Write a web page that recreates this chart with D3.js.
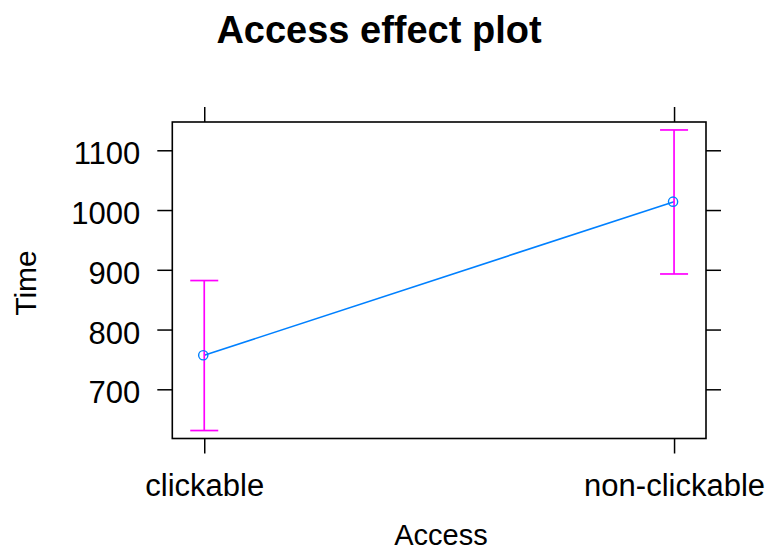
<!DOCTYPE html>
<html>
<head>
<meta charset="utf-8">
<script src="https://cdn.jsdelivr.net/npm/d3@7"></script>
<style>
  html, body { margin: 0; padding: 0; background: #fff; }
  svg { display: block; }
  text { font-family: "Liberation Sans", Arial, Helvetica, sans-serif; fill: #000; }
</style>
</head>
<body>
<svg id="chart" width="766" height="553"></svg>
<script>
// Effect of Access on Time: fitted means with confidence limits
const categories = ["clickable", "non-clickable"];
const fit   = [757, 1014];
const lower = [631, 893];
const upper = [882, 1134];
const yTicks = [700, 800, 900, 1000, 1100];

const svg = d3.select("#chart");

// panel box
const panel = { left: 172.3, right: 706, top: 122, bottom: 438.5 };
const tickLen = 15;

// y range padded a little beyond the confidence limits
const yMin = d3.min(lower), yMax = d3.max(upper);
const pad = (yMax - yMin) * 0.0265;
const y = d3.scaleLinear()
  .domain([yMin - pad, yMax + pad])
  .range([panel.bottom, panel.top]);

const x = d3.scalePoint()
  .domain(categories)
  .range([panel.left, panel.right])
  .padding(0.068);

// title
svg.append("text")
  .attr("x", 379).attr("y", 43)
  .attr("text-anchor", "middle")
  .style("font-size", "38px")
  .style("font-weight", "bold")
  .text("Access effect plot");

// axes: labelled on left/bottom, bare ticks on right/top
const axisStyle = g => {
  g.select(".domain").remove();
  g.selectAll(".tick line").attr("stroke", "#000").attr("stroke-width", 1.5);
};

svg.append("g")
  .attr("transform", `translate(${panel.left},0)`)
  .call(d3.axisLeft(y).tickValues(yTicks).tickSize(tickLen).tickPadding(17).tickFormat(d3.format("d")))
  .call(axisStyle)
  .call(g => g.selectAll(".tick text")
    .style("font-size", "31px")
    .attr("dy", "0.44em"));

svg.append("g")
  .attr("transform", `translate(${panel.right},0)`)
  .call(d3.axisRight(y).tickValues(yTicks).tickSize(tickLen).tickFormat(""))
  .call(axisStyle);

svg.append("g")
  .attr("transform", `translate(0,${panel.bottom})`)
  .call(d3.axisBottom(x).tickSize(tickLen).tickPadding(20))
  .call(axisStyle)
  .call(g => g.selectAll(".tick text")
    .style("font-size", "31px")
    .attr("dy", "0.71em"));

svg.append("g")
  .attr("transform", `translate(0,${panel.top})`)
  .call(d3.axisTop(x).tickSize(tickLen).tickFormat(""))
  .call(axisStyle);

// panel border
svg.append("rect")
  .attr("x", panel.left).attr("y", panel.top)
  .attr("width", panel.right - panel.left)
  .attr("height", panel.bottom - panel.top)
  .attr("fill", "none")
  .attr("stroke", "#000")
  .attr("stroke-width", 1.6);

// axis titles
svg.append("text")
  .attr("x", 441).attr("y", 545)
  .attr("text-anchor", "middle")
  .style("font-size", "29px")
  .text("Access");

svg.append("text")
  .attr("transform", `translate(36,283) rotate(-90)`)
  .attr("text-anchor", "middle")
  .style("font-size", "30px")
  .text("Time");

const rows = categories.map((c, i) => ({ c, fit: fit[i], lo: lower[i], hi: upper[i] }));

// fitted line
svg.append("path")
  .datum(rows)
  .attr("fill", "none")
  .attr("stroke", "#0080ff")
  .attr("stroke-width", 1.6)
  .attr("d", d3.line().x(d => x(d.c)).y(d => y(d.fit)));

// confidence intervals
const capHalf = 14;
const ci = svg.append("g").attr("stroke", "#ff00ff").attr("stroke-width", 1.7).attr("fill", "none");
ci.selectAll("line.bar").data(rows).join("line")
  .attr("class", "bar")
  .attr("x1", d => x(d.c)).attr("x2", d => x(d.c))
  .attr("y1", d => y(d.lo)).attr("y2", d => y(d.hi));
ci.selectAll("line.capHi").data(rows).join("line")
  .attr("class", "capHi")
  .attr("x1", d => x(d.c) - capHalf).attr("x2", d => x(d.c) + capHalf)
  .attr("y1", d => y(d.hi)).attr("y2", d => y(d.hi));
ci.selectAll("line.capLo").data(rows).join("line")
  .attr("class", "capLo")
  .attr("x1", d => x(d.c) - capHalf).attr("x2", d => x(d.c) + capHalf)
  .attr("y1", d => y(d.lo)).attr("y2", d => y(d.lo));

// fitted points
svg.append("g").selectAll("circle").data(rows).join("circle")
  .attr("cx", d => x(d.c) - 1)
  .attr("cy", d => y(d.fit))
  .attr("r", 4.6)
  .attr("fill", "none")
  .attr("stroke", "#0080ff")
  .attr("stroke-width", 1.4);
</script>
</body>
</html>
